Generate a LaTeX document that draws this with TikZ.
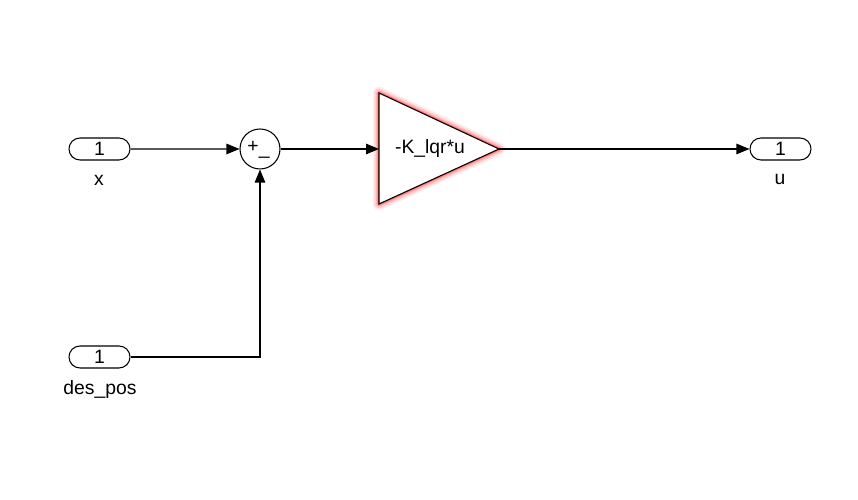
\documentclass[tikz,border=0pt]{standalone}
\usepackage{fontspec}
\setmainfont{Liberation Sans}
\usetikzlibrary{arrows.meta,shapes.misc}
\begin{document}
\begin{tikzpicture}[line width=0.6pt,
    port/.style={rounded rectangle, draw, minimum width=1.22cm, minimum height=0.44cm, inner sep=0pt, font=\fontsize{11}{13}\selectfont},
    sumblk/.style={circle, draw, minimum size=0.8cm, inner sep=0pt},
    lbl/.style={font=\fontsize{11}{13}\selectfont},
    sig/.style={-{Triangle[length=0.26cm,width=0.21cm]}}]
\useasboundingbox (0,0) rectangle (17.16,10);
\node[port] (x) at (1.99,7.02) {1};
\node[lbl] (xl) at (1.98,6.4) {x};
\node[port] (despos) at (1.99,2.86) {1};
\node[lbl] (desposl) at (2.0,2.2) {des\_pos};
\node[sumblk] (sum) at (5.2,7.02) {};
\node[lbl] (sumsign) at (5.17,7.0) {+\raisebox{-1.5pt}{\_}};
% gain block with red glow
\coordinate (gainin) at (7.58,7.02);
\coordinate (gainout) at (9.98,7.02);
\foreach \w/\o in {7pt/0.08, 5pt/0.12, 3pt/0.2, 1.5pt/0.35}
    \draw[red, line width=\w, opacity=\o, line join=round] (7.58,8.14) -- (gainout) -- (7.58,5.92) -- cycle;
\draw[fill=white] (7.58,8.14) -- (gainout) -- (7.58,5.92) -- cycle;
\node[lbl] (gain) at (8.6,7.02) {-K\_lqr*u};
\node[port] (u) at (15.61,7.02) {1};
\node[lbl] (ul) at (15.6,6.4) {u};
\draw[sig] (x) -- (sum);
\draw[sig] (despos) -| (sum);
\draw[sig] (sum) -- (gainin);
\draw[sig] (gainout) -- (u);
\end{tikzpicture}
\end{document}
